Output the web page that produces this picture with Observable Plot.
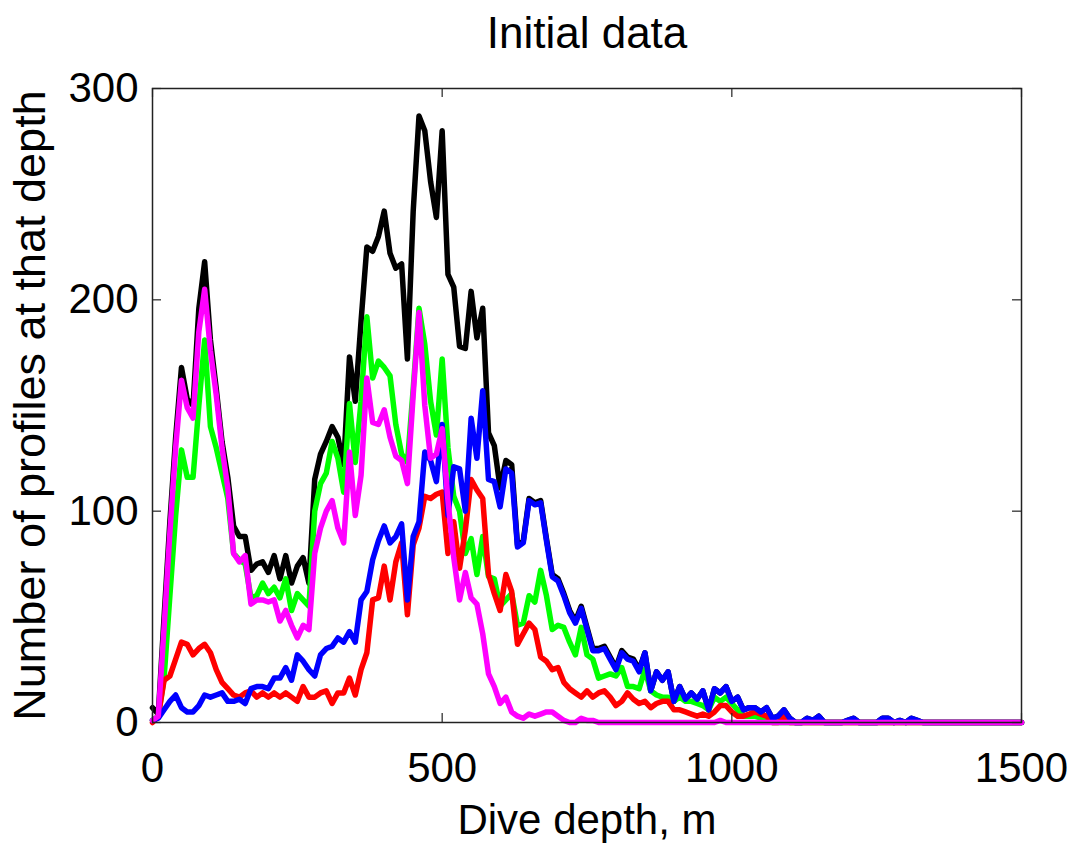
<!DOCTYPE html>
<html><head><meta charset="utf-8">
<script src="https://cdn.jsdelivr.net/npm/d3@7"></script>
<script src="https://cdn.jsdelivr.net/npm/@observablehq/plot@0.6"></script>
<style>body{margin:0;background:#fff;}</style>
</head><body><div id="chart"></div>
<script>
const depth = [
  0,10,20,30,40,50,60,70,80,90,
  100,110,120,130,140,150,160,170,180,190,
  200,210,220,230,240,250,260,270,280,290,
  300,310,320,330,340,350,360,370,380,390,
  400,410,420,430,440,450,460,470,480,490,
  500,510,520,530,540,550,560,570,580,590,
  600,610,620,630,640,650,660,670,680,690,
  700,710,720,730,740,750,760,770,780,790,
  800,810,820,830,840,850,860,870,880,890,
  900,910,920,930,940,950,960,970,980,990,
  1000,1010,1020,1030,1040,1050,1060,1070,1080,1090,
  1100,1110,1120,1130,1140,1150,1160,1170,1180,1190,
  1200,1210,1220,1230,1240,1250,1260,1270,1280,1290,
  1300,1310,1320,1330,1340,1350,1360,1370,1380,1390,
  1400,1410,1420,1430,1440,1450,1460,1470,1480,1490,
  1500];
const allProfiles = [
  7,4,50,95,135,168,153,150,196,218,
  181,158,133,116,93,88,88,72,75,76,
  71,79,68,79,66,74,78,66,115,127,
  133,140,135,122,173,152,190,225,223,230,
  242,222,215,217,172,242,287,280,256,239,
  280,212,206,178,177,204,182,196,137,131,
  111,124,122,84,86,106,104,105,87,70,
  68,61,53,48,55,45,35,35,36,31,
  26,34,31,30,25,33,15,24,20,24,
  10,17,11,14,11,15,6,16,14,17,
  10,12,6,7,7,5,7,2,3,6,
  2,0,0,2,1,3,0,0,0,0,
  1,2,0,0,0,0,2,2,0,1,
  0,2,1,0,0,0,0,0,0,0,
  0,0,0,0,0,0,0,0,0,0,
  0];
const greenProfiles = [
  1,3,21,60,98,129,116,116,150,181,
  140,130,118,106,80,77,75,59,60,66,
  61,64,59,68,53,61,58,55,100,113,
  118,133,125,109,151,123,152,192,163,171,
  168,164,141,127,123,158,196,179,152,136,
  172,130,107,100,80,87,70,88,69,68,
  55,58,61,46,47,60,57,72,60,44,
  46,45,38,32,45,32,30,21,22,23,
  22,26,17,17,16,25,15,13,12,12,
  10,12,10,10,9,8,6,12,10,12,
  9,6,3,3,3,2,1,0,0,0,
  0,0,0,0,0,0,0,0,0,0,
  0,0,0,0,0,0,0,0,0,0,
  0,0,0,0,0,0,0,0,0,0,
  0,0,0,0,0,0,0,0,0,0,
  0];
const redProfiles = [
  0,3,20,22,30,38,37,32,35,37,
  33,25,19,16,13,12,14,15,12,14,
  12,14,12,14,12,10,17,12,12,14,
  15,9,14,14,21,13,25,33,58,59,
  74,58,76,85,51,84,92,107,106,108,
  109,80,95,73,91,115,110,106,70,61,
  53,70,62,37,42,47,44,31,29,25,
  26,19,16,14,12,15,12,14,15,12,
  8,10,14,11,9,10,7,9,10,10,
  6,6,5,4,3,4,3,5,8,8,
  5,3,3,4,5,4,3,0,0,3,
  0,0,0,0,0,0,0,0,0,0,
  0,0,0,0,0,0,0,0,0,0,
  0,0,0,0,0,0,0,0,0,0,
  0,0,0,0,0,0,0,0,0,0,
  0];
const blueProfiles = [
  1,2,6,10,13,7,5,5,8,13,
  12,13,14,10,10,11,9,16,17,17,
  16,21,21,26,20,32,29,25,22,32,
  35,36,40,38,43,38,58,62,77,86,
  93,85,88,94,58,88,95,128,124,114,
  141,98,121,120,100,144,125,157,115,114,
  102,120,118,83,85,105,103,104,86,69,
  67,60,52,47,54,44,34,34,35,30,
  25,33,30,29,24,33,15,24,20,24,
  10,17,11,14,11,15,6,16,14,17,
  10,12,6,7,7,5,7,2,3,6,
  2,0,0,2,1,3,0,0,0,0,
  1,2,0,0,0,0,2,2,0,1,
  0,2,1,0,0,0,0,0,0,0,
  0,0,0,0,0,0,0,0,0,0,
  0];
const magentaProfiles = [
  1,3,45,90,130,162,149,144,185,205,
  176,155,130,111,80,76,79,56,58,58,
  57,58,48,53,46,40,46,44,80,92,
  100,105,92,85,128,98,117,163,142,141,
  148,135,126,124,113,155,194,150,125,127,
  139,105,78,58,71,59,56,42,23,17,
  9,12,5,3,2,4,3,4,5,5,
  3,1,0,0,2,1,1,0,0,0,
  0,0,0,0,0,0,0,0,0,0,
  0,0,0,0,0,0,0,0,1,0,
  0,0,0,0,0,0,0,0,0,0,
  0,0,0,0,0,0,0,0,0,0,
  0,0,0,0,0,0,0,0,0,0,
  0,0,0,0,0,0,0,0,0,0,
  0,0,0,0,0,0,0,0,0,0,
  0];
const xTicks = [0, 500, 1000, 1500];
const yTicks = [0, 100, 200, 300];
const titleText = "Initial data";
const xLabel = "Dive depth, m";
const yLabel = "Number of profiles at that depth";

const W = 1075, H = 843, mL = 152, mR = 54, mT = 88, mB = 121;
const innerW = W - mL - mR, innerH = H - mT - mB;
const tickLen = 9;

const series = [
  {name: "all", values: allProfiles, color: "#000000"},
  {name: "green", values: greenProfiles, color: "#00ff00"},
  {name: "red", values: redProfiles, color: "#ff0000"},
  {name: "blue", values: blueProfiles, color: "#0000ff"},
  {name: "magenta", values: magentaProfiles, color: "#ff00ff"}
];
const rows = series.flatMap(s => s.values.map((v, i) => ({depth: depth[i], count: v, series: s.name})));

const plot = Plot.plot({
  width: W, height: H,
  marginLeft: mL, marginRight: mR, marginTop: mT, marginBottom: mB,
  style: {fontFamily: "'Liberation Sans', Arial, sans-serif", fontSize: "42px", background: "white", color: "black", overflow: "visible"},
  x: {domain: [0, 1500]},
  y: {domain: [0, 300]},
  marks: [
    ...series.map(s => Plot.line(rows.filter(r => r.series === s.name), {
      x: "depth", y: "count", stroke: s.color, strokeWidth: 5.5, strokeLinejoin: "round", strokeLinecap: "round"
    })),
    Plot.frame({stroke: "#222", strokeWidth: 1.5}),
    Plot.tickX(xTicks, {x: d => d, insetTop: innerH - tickLen, stroke: "#222", strokeWidth: 1.2}),
    Plot.tickX(xTicks, {x: d => d, insetBottom: innerH - tickLen, stroke: "#222", strokeWidth: 1.2}),
    Plot.tickY(yTicks, {y: d => d, insetRight: innerW - tickLen, stroke: "#222", strokeWidth: 1.2}),
    Plot.tickY(yTicks, {y: d => d, insetLeft: innerW - tickLen, stroke: "#222", strokeWidth: 1.2}),
    Plot.axisX({ticks: xTicks, tickSize: 0, tickPadding: 30, tickFormat: d3.format("d"), label: null, fontSize: 42}),
    Plot.axisY({ticks: yTicks, tickSize: 0, tickPadding: 14, tickFormat: d3.format("d"), label: null, fontSize: 42}),
    Plot.text([titleText], {text: d => d, frameAnchor: "top", lineAnchor: "middle", dy: -55, fontSize: 44, fill: "black"}),
    Plot.text([xLabel], {text: d => d, frameAnchor: "bottom", lineAnchor: "middle", dy: 98, fontSize: 42, fill: "black"}),
    Plot.text([yLabel], {text: d => d, frameAnchor: "left", textAnchor: "middle", lineAnchor: "middle", dx: -122, rotate: -90, fontSize: 45, fill: "black"})
  ]
});
document.getElementById("chart").appendChild(plot);
</script>
</body></html>
